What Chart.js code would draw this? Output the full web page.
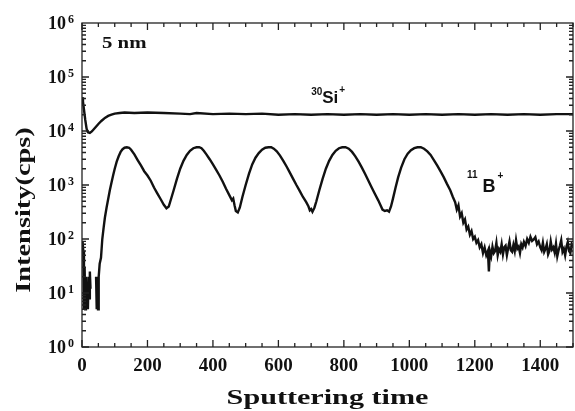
<!DOCTYPE html>
<html>
<head>
<meta charset="utf-8">
<script src="https://cdn.jsdelivr.net/npm/chart.js@4/dist/chart.umd.min.js"></script>
<style>
  html, body { margin: 0; padding: 0; background: #fff; }
  #wrap { width: 575px; height: 411px; }
</style>
</head>
<body>
<div id="wrap"><canvas id="sims"></canvas></div>
<script>
// sputtering time (x) and counts per second (y)
const siTime = [0, 3, 6, 10, 14, 18, 24, 30, 40, 50, 60, 70, 80, 90, 100, 115, 130, 160, 200, 250, 300, 330, 350, 400, 450, 500, 550, 600, 650, 700, 750, 800, 850, 900, 950, 1000, 1050, 1100, 1150, 1200, 1250, 1300, 1350, 1400, 1450, 1500];
const siCps = [42000, 35000, 25000, 16000, 11000, 9500, 9200, 9800, 11500, 13500, 15500, 17500, 19000, 20000, 21000, 21500, 22000, 21500, 22000, 21500, 21000, 20500, 21500, 20500, 21000, 20500, 21000, 20000, 20500, 20000, 20500, 20000, 20500, 20000, 20500, 20000, 20500, 20000, 20500, 20000, 20500, 20000, 20500, 20000, 20500, 20500];

const bTime = [0, 2, 4, 6, 8, 10, 12, 14, 16, 18, 20, 22, 24, 26, 28, 42, 43, 45, 47, 49, 51, 54, 58, 62, 66, 70, 75, 80, 85, 90, 95, 100, 106, 112, 118, 124, 130, 137, 144, 150, 160, 170, 180, 190, 200, 210, 220, 230, 240, 250, 258, 265, 272, 280, 290, 300, 310, 320, 330, 340, 350, 358, 365, 372, 380, 390, 400, 410, 420, 430, 440, 450, 458, 462, 466, 470, 476, 482, 490, 500, 510, 520, 530, 540, 550, 560, 570, 578, 586, 595, 605, 615, 625, 635, 645, 655, 665, 675, 685, 692, 696, 700, 704, 710, 716, 725, 735, 745, 755, 765, 775, 785, 795, 805, 815, 825, 835, 845, 855, 865, 875, 885, 895, 905, 912, 918, 925, 932, 938, 944, 950, 958, 966, 975, 985, 995, 1005, 1015, 1025, 1035, 1045, 1055, 1065, 1075, 1085, 1095, 1105, 1115, 1125, 1133, 1140, 1145, 1150, 1155, 1160, 1165, 1170, 1175, 1180, 1185, 1190, 1195, 1200, 1205, 1210, 1215, 1220, 1225, 1230, 1235, 1240, 1243, 1246, 1250, 1254, 1258, 1262, 1266, 1270, 1274, 1278, 1282, 1286, 1290, 1294, 1298, 1302, 1306, 1310, 1314, 1318, 1322, 1326, 1330, 1334, 1338, 1342, 1346, 1350, 1355, 1360, 1365, 1370, 1375, 1380, 1385, 1390, 1395, 1400, 1404, 1408, 1412, 1416, 1420, 1424, 1428, 1432, 1436, 1440, 1444, 1448, 1452, 1456, 1460, 1464, 1468, 1472, 1476, 1480, 1484, 1488, 1492, 1496, 1500];
const bCps = [90, 85, 60, 5, 30, 5, 20, 5, 15, 5, 20, 8, 25, 12, null, null, 20, 5, 20, 5, 20, 35, 45, 100, 160, 250, 380, 550, 800, 1100, 1500, 2000, 2700, 3400, 4100, 4600, 4900, 5000, 4900, 4500, 3700, 2900, 2300, 1800, 1500, 1200, 900, 700, 550, 430, 370, 400, 550, 800, 1300, 2000, 2800, 3600, 4300, 4800, 5000, 5000, 4800, 4300, 3700, 3000, 2400, 1900, 1500, 1150, 850, 650, 520, 560, 420, 330, 310, 380, 600, 1000, 1600, 2400, 3200, 3900, 4500, 4900, 5000, 5000, 4700, 4200, 3500, 2800, 2200, 1700, 1300, 1000, 780, 600, 480, 400, 340, 360, 320, 380, 500, 800, 1300, 2000, 2800, 3600, 4300, 4800, 5000, 5000, 4700, 4100, 3400, 2700, 2100, 1600, 1200, 900, 680, 520, 420, 350, 330, 340, 320, 400, 560, 900, 1400, 2100, 3000, 3800, 4400, 4800, 5000, 5000, 4700, 4200, 3600, 2900, 2300, 1800, 1400, 1050, 800, 600, 480, 350, 420, 260, 300, 200, 230, 150, 170, 120, 140, 100, 110, 85, 95, 70, 80, 55, 70, 50, 60, 25, 60, 48, 72, 55, 60, 85, 50, 65, 58, 80, 52, 70, 75, 50, 68, 90, 62, 58, 78, 60, 95, 66, 72, 55, 80, 70, 88, 74, 100, 85, 110, 92, 98, 108, 80, 90, 70, 62, 85, 58, 66, 80, 52, 60, 90, 64, 70, 56, 82, 48, 62, 75, 95, 58, 66, 50, 72, 88, 60, 55, 80, 72];

const xTicks = [0, 200, 400, 600, 800, 1000, 1200, 1400];
const yDecades = [1, 10, 100, 1000, 10000, 100000, 1000000];

const serif = '"Liberation Serif", "Times New Roman", serif';
const sans = '"Liberation Sans", Arial, sans-serif';

// inward tick marks on all four sides + frame
const frameTicks = {
  id: 'frameTicks',
  afterDraw(chart) {
    const { ctx, chartArea: a, scales: { x, y } } = chart;
    ctx.save();
    ctx.strokeStyle = '#222';
    ctx.lineWidth = 1.3;
    ctx.strokeRect(a.left, a.top, a.right - a.left, a.bottom - a.top);
    ctx.beginPath();
    for (let v = 0; v <= 1500; v += 50) {
      const px = x.getPixelForValue(v);
      const len = v % 200 === 0 ? 7 : 4;
      ctx.moveTo(px, a.bottom); ctx.lineTo(px, a.bottom - len);
      ctx.moveTo(px, a.top); ctx.lineTo(px, a.top + len);
    }
    for (let d = 1; d < 1e6; d *= 10) {
      for (let m = 1; m <= 9; m++) {
        const py = y.getPixelForValue(d * m);
        const len = m === 1 ? 7 : 4;
        ctx.moveTo(a.left, py); ctx.lineTo(a.left + len, py);
        ctx.moveTo(a.right, py); ctx.lineTo(a.right - len, py);
      }
    }
    ctx.stroke();
    ctx.restore();
  }
};

function drawParts(ctx, px, py, parts) {
  let cx = px;
  parts.forEach(p => {
    ctx.font = p.font;
    ctx.fillText(p.text, cx, py + p.dy);
    cx += ctx.measureText(p.text).width + (p.gap || 0);
  });
}

// text stretched along its own direction (the source picture is a bit wide)
function stretchText(ctx, text, x, y, font, sx, rot) {
  ctx.save();
  ctx.translate(x, y);
  if (rot) ctx.rotate(rot);
  ctx.scale(sx, 1);
  ctx.font = font;
  ctx.fillText(text, 0, 0);
  ctx.restore();
}

const labels = {
  id: 'labels',
  afterDraw(chart) {
    const { ctx, chartArea: a, scales: { x, y } } = chart;
    ctx.save();
    ctx.fillStyle = '#111';
    ctx.textBaseline = 'alphabetic';
    ctx.textAlign = 'left';

    // y tick labels 10^n
    yDecades.forEach(v => {
      const py = y.getPixelForValue(v) + 6;
      const n = String(Math.round(Math.log10(v)));
      ctx.font = 'bold 18px ' + serif;
      const w = ctx.measureText('10').width;
      ctx.fillText('10', 66 - w, py);
      ctx.font = 'bold 12px ' + serif;
      ctx.fillText(n, 68, py - 6);
    });

    stretchText(ctx, '5 nm', x.getPixelForValue(61), y.getPixelForValue(350000), 'bold 16px ' + serif, 1.3);

    const small = 'bold 10px ' + sans;
    drawParts(ctx, x.getPixelForValue(700), y.getPixelForValue(33000), [
      { text: '30', font: small, dy: -8, gap: 0 },
      { text: 'Si', font: 'bold 17px ' + sans, dy: 0, gap: 1 },
      { text: '+', font: small, dy: -10 }
    ]);
    drawParts(ctx, x.getPixelForValue(1176), y.getPixelForValue(740), [
      { text: '11', font: small, dy: -14, gap: 5 },
      { text: 'B', font: 'bold 18px ' + sans, dy: 0, gap: 2 },
      { text: '+', font: small, dy: -13 }
    ]);

    ctx.textAlign = 'center';
    ctx.textBaseline = 'middle';
    stretchText(ctx, 'Intensity(cps)', 24, 210, 'bold 22px ' + serif, 1.29, -Math.PI / 2);
    stretchText(ctx, 'Sputtering time', (a.left + a.right) / 2, 398, 'bold 22px ' + serif, 1.37);
    ctx.restore();
  }
};

const ctx = document.getElementById('sims').getContext('2d');
new Chart(ctx, {
  type: 'line',
  data: {
    datasets: [{
      label: '30Si+',
      data: siTime.map((t, i) => ({ x: t, y: siCps[i] })),
      borderColor: '#111',
      borderWidth: 2.4,
      pointRadius: 0,
      tension: 0
    }, {
      label: '11B+',
      data: bTime.map((t, i) => ({ x: t, y: bCps[i] })),
      borderColor: '#111',
      borderWidth: 2.4,
      pointRadius: 0,
      tension: 0,
      spanGaps: false
    }]
  },
  options: {
    responsive: true,
    maintainAspectRatio: false,
    animation: false,
    events: [],
    layout: { padding: { left: 0, right: 2, top: 23, bottom: 0 } },
    plugins: { legend: { display: false }, tooltip: { enabled: false } },
    scales: {
      x: {
        type: 'linear',
        min: 0,
        max: 1500,
        grid: { display: false, drawTicks: false },
        border: { display: false },
        afterFit(scale) { scale.height = 64; },
        afterBuildTicks(scale) { scale.ticks = xTicks.map(v => ({ value: v })); },
        ticks: {
          color: '#111',
          font: { family: serif, size: 19, weight: 'bold' },
          padding: 8,
          maxRotation: 0,
          autoSkip: false,
          callback: v => String(v)
        }
      },
      y: {
        type: 'logarithmic',
        min: 1,
        max: 1000000,
        grid: { display: false, drawTicks: false },
        border: { display: false },
        afterFit(scale) { scale.width = 82; },
        afterBuildTicks(scale) { scale.ticks = yDecades.map(v => ({ value: v, major: true })); },
        ticks: { display: false }
      }
    }
  },
  plugins: [frameTicks, labels]
});
</script>
</body>
</html>
